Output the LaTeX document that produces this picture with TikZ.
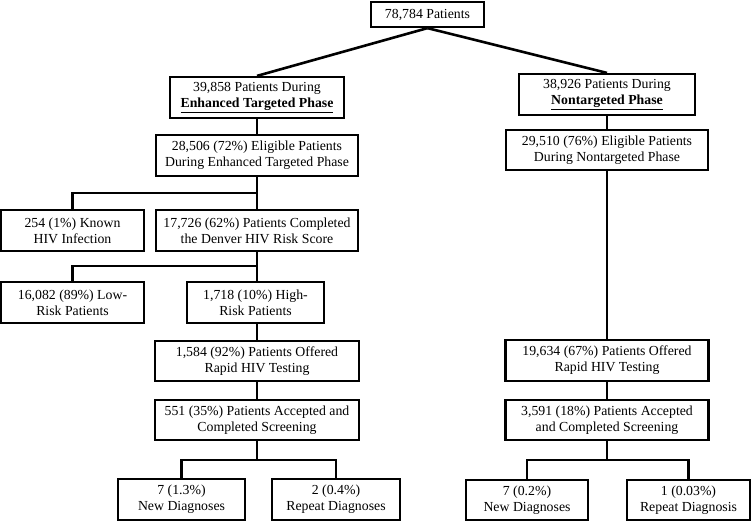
\documentclass[tikz,border=0pt]{standalone}
\usepackage{fontspec}
\setmainfont{Liberation Serif}
\begin{document}
\begin{tikzpicture}[x=1pt,y=-1pt,
  bx/.style={draw=black,line width=2.2pt,align=center,inner sep=0pt,font=\fontsize{13.8}{16}\selectfont},
  ln/.style={line width=2.6pt}]
\useasboundingbox (0,0) rectangle (751,523);
\node[bx,minimum width=113pt,minimum height=25pt] (top) at (427.5,14.5) {78,784 Patients};
\node[bx,minimum width=174pt,minimum height=41pt] (enh) at (257,97.5) {39,858 Patients During\\\textbf{\underline{Enhanced Targeted Phase}}};
\node[bx,minimum width=176pt,minimum height=41pt] (non) at (607,94.5) {38,926 Patients During\\\textbf{\underline{Nontargeted Phase}}};
\node[bx,minimum width=202pt,minimum height=41pt] (eligE) at (257,155.5) {28,506 (72\%) Eligible Patients\\During Enhanced Targeted Phase};
\node[bx,minimum width=202pt,minimum height=40pt] (eligN) at (607,150) {29,510 (76\%) Eligible Patients\\During Nontargeted Phase};
\node[bx,minimum width=143pt,minimum height=41pt] (known) at (72.5,230.5) {254 (1\%) Known\\HIV Infection};
\node[bx,minimum width=202pt,minimum height=41pt] (denver) at (257,230.5) {17,726 (62\%) Patients Completed\\the Denver HIV Risk Score};
\node[bx,minimum width=143pt,minimum height=41pt] (low) at (72.5,302.5) {16,082 (89\%) Low-\\Risk Patients};
\node[bx,minimum width=137pt,minimum height=41pt] (high) at (255.5,302.5) {1,718 (10\%) High-\\Risk Patients};
\node[bx,minimum width=204pt,minimum height=40pt] (offE) at (257,361) {1,584 (92\%) Patients Offered\\Rapid HIV Testing};
\node[bx,minimum width=204pt,minimum height=40pt] (accE) at (257,420) {551 (35\%) Patients Accepted and\\Completed Screening};
\node[bx,minimum width=127pt,minimum height=41pt] (newE) at (181.5,499.5) {7 (1.3\%)\\New Diagnoses};
\node[bx,minimum width=128pt,minimum height=41pt] (repE) at (336,499.5) {2 (0.4\%)\\Repeat Diagnoses};
\node[bx,minimum width=203pt,minimum height=41pt] (offN) at (607,360.5) {19,634 (67\%) Patients Offered\\Rapid HIV Testing};
\node[bx,minimum width=203pt,minimum height=40pt] (accN) at (607,420) {3,591 (18\%) Patients Accepted\\and Completed Screening};
\node[bx,minimum width=122pt,minimum height=40pt] (newN) at (527,500) {7 (0.2\%)\\New Diagnoses};
\node[bx,minimum width=123pt,minimum height=40pt] (repN) at (688.5,500) {1 (0.03\%)\\Repeat Diagnosis};
\coordinate (bE1) at (257,193);
\coordinate (bE2) at (257,266);
\coordinate (bE3) at (257,460);
\coordinate (bN3) at (607,460);
\draw[ln] (top.south) -- (enh.north);
\draw[ln] (top.south) -- (non.north);
\draw[ln] (enh.south) -- (eligE.north);
\draw[ln] (non.south) -- (eligN.north);
\draw[ln] (eligE.south) -- (denver.north);
\draw[ln] (known.north) |- (bE1);
\draw[ln] (denver.south) -- (bE2) -- (bE2 |- high.north);
\draw[ln] (low.north) |- (bE2);
\draw[ln] (high.south -| bE2) -- (offE.north);
\draw[ln] (offE.south) -- (accE.north);
\draw[ln] (accE.south) -- (bE3);
\draw[ln] (newE.north) |- (bE3) -| (repE.north);
\draw[ln] (eligN.south) -- (offN.north);
\draw[ln] (offN.south) -- (accN.north);
\draw[ln] (accN.south) -- (bN3);
\draw[ln] (newN.north) |- (bN3) -| (repN.north);
\end{tikzpicture}
\end{document}
